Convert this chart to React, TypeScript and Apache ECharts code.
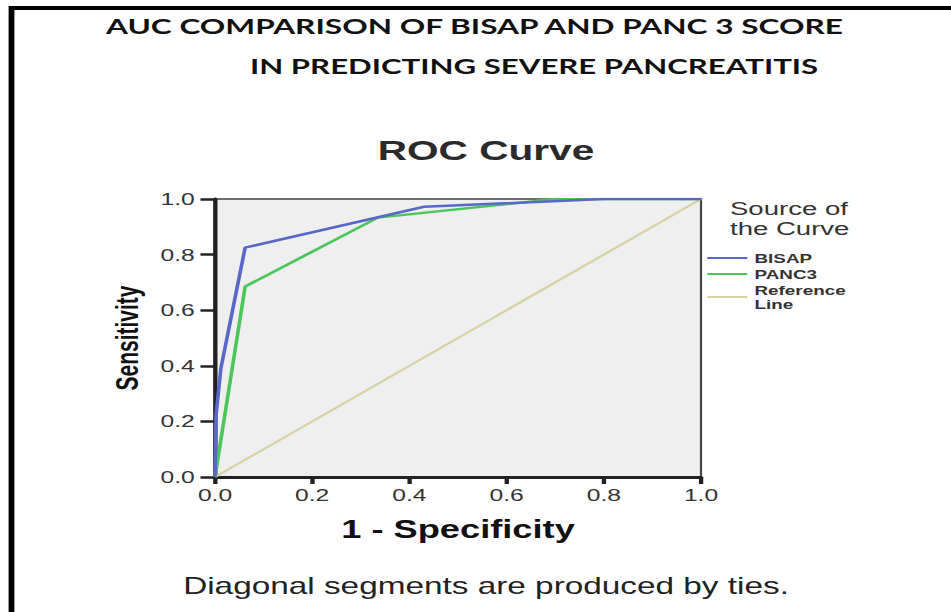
import React, { useEffect, useRef } from "react";
import * as echarts from "echarts";

// ---- data ----
const xTicks = [0, 0.2, 0.4, 0.6, 0.8, 1.0];
const bisapX = [0, 0.002, 0.012, 0.062, 0.43, 0.8, 1];
const bisapY = [0, 0.22, 0.39, 0.825, 0.972, 1, 1];
const panc3X = [0, 0.062, 0.335, 0.7, 1];
const panc3Y = [0, 0.685, 0.933, 1, 1];
const refX = [0, 1];
const refY = [0, 1];
const seriesNames = ["BISAP", "PANC3", "Reference Line"];
const legendTitle = ["Source of", "the Curve"];

const S = 1.45; // horizontal stretch of the original picture
const W = 951 / S;
const H = 612;
const fx = (x: number) => x / S;

const zip = (xs: number[], ys: number[]) => xs.map((x, i) => [x, ys[i]]);

export default function App() {
  const ref = useRef<HTMLDivElement>(null);
  useEffect(() => {
    if (!ref.current) return;
    const chart = echarts.init(ref.current, null, { renderer: "svg" });
    const sans = "Liberation Sans, Arial, sans-serif";
    chart.setOption({
      animation: false,
      backgroundColor: "#ffffff",
      grid: {
        left: fx(215),
        top: 199,
        width: fx(701) - fx(215),
        height: 278,
        show: true,
        backgroundColor: "#efefef",
        borderColor: "#444",
        borderWidth: 1.5,
      },
      xAxis: {
        type: "value",
        min: xTicks[0],
        max: xTicks[xTicks.length - 1],
        interval: 0.2,
        name: "1 - Specificity",
        nameLocation: "middle",
        nameGap: 40,
        nameTextStyle: { fontFamily: sans, fontWeight: "bold", fontSize: 25, color: "#111" },
        axisLine: { show: true, lineStyle: { color: "#222", width: 3 } },
        axisTick: { show: true, length: 7, lineStyle: { color: "#222", width: 3 } },
        axisLabel: {
          margin: 9,
          fontFamily: sans,
          fontSize: 17,
          color: "#333",
          formatter: (v: number) => v.toFixed(1),
        },
        splitLine: { show: false },
      },
      yAxis: {
        type: "value",
        min: 0,
        max: 1,
        interval: 0.2,
        name: "Sensitivity",
        nameLocation: "middle",
        nameGap: 50,
        nameTextStyle: { fontFamily: sans, fontWeight: "bold", fontSize: 21, color: "#111" },
        axisLine: { show: true, lineStyle: { color: "#222", width: 3 } },
        axisTick: { show: true, length: 10, lineStyle: { color: "#222", width: 2.5 } },
        axisLabel: {
          margin: 14,
          fontFamily: sans,
          fontSize: 17,
          color: "#333",
          formatter: (v: number) => v.toFixed(1),
        },
        splitLine: { show: false },
      },
      legend: {
        show: true,
        orient: "vertical",
        left: fx(700),
        top: 246,
        icon: "rect",
        itemWidth: fx(740) - fx(700),
        itemHeight: 2,
        itemGap: 2,
        data: seriesNames,
        formatter: (n: string) => (n === "Reference Line" ? "Reference\nLine" : n),
        textStyle: {
          fontFamily: sans,
          fontSize: 13,
          fontWeight: "bold",
          color: "#333",
          lineHeight: 14,
          padding: [0, 0, 0, 0],
        },
      },
      graphic: [
        {
          type: "rect",
          shape: { x: fx(11.5), y: 8, width: 900, height: 900 },
          style: { fill: "none", stroke: "#000", lineWidth: 4 },
          silent: true,
        },
        {
          type: "text",
          left: fx(106),
          top: 15,
          style: {
            text: "AUC COMPARISON OF BISAP AND PANC 3 SCORE",
            font: "bold 21.8px Lato, sans-serif",
            fill: "#111",
          },
        },
        {
          type: "text",
          left: fx(250),
          top: 55,
          style: {
            text: "IN PREDICTING SEVERE PANCREATITIS",
            font: "bold 21.5px Lato, sans-serif",
            fill: "#111",
          },
        },
        {
          type: "text",
          x: fx(486),
          y: 150,
          style: {
            text: "ROC Curve",
            font: "bold 28px " + sans,
            fill: "#2a2a2a",
            align: "center",
            verticalAlign: "middle",
          },
        },
        ...legendTitle.map((t, i) => ({
          type: "text",
          x: fx(730),
          y: 209 + i * 20,
          style: {
            text: t,
            font: "19px " + sans,
            fill: "#333",
            align: "left",
            verticalAlign: "middle",
          },
        })),
        {
          type: "text",
          x: fx(486),
          y: 586,
          style: {
            text: "Diagonal segments are produced by ties.",
            font: "23px " + sans,
            fill: "#222",
            align: "center",
            verticalAlign: "middle",
          },
        },
      ],
      series: [
        {
          name: "BISAP",
          type: "line",
          data: zip(bisapX, bisapY),
          symbol: "none",
          lineStyle: { color: "#5868c8", width: 2.5 },
          itemStyle: { color: "#5868c8" },
          z: 4,
        },
        {
          name: "PANC3",
          type: "line",
          data: zip(panc3X, panc3Y),
          symbol: "none",
          lineStyle: { color: "#4cc65a", width: 2.5 },
          itemStyle: { color: "#4cc65a" },
          z: 3,
        },
        {
          name: "Reference Line",
          type: "line",
          data: zip(refX, refY),
          symbol: "none",
          lineStyle: { color: "#d7d2a2", width: 2 },
          itemStyle: { color: "#d7d2a2" },
          z: 2,
        },
      ],
    });
    return () => chart.dispose();
  }, []);
  return (
    <div
      ref={ref}
      style={{
        position: "absolute",
        left: 0,
        top: 0,
        width: W,
        height: H,
        transform: `scaleX(${S})`,
        transformOrigin: "0 0",
      }}
    />
  );
}
